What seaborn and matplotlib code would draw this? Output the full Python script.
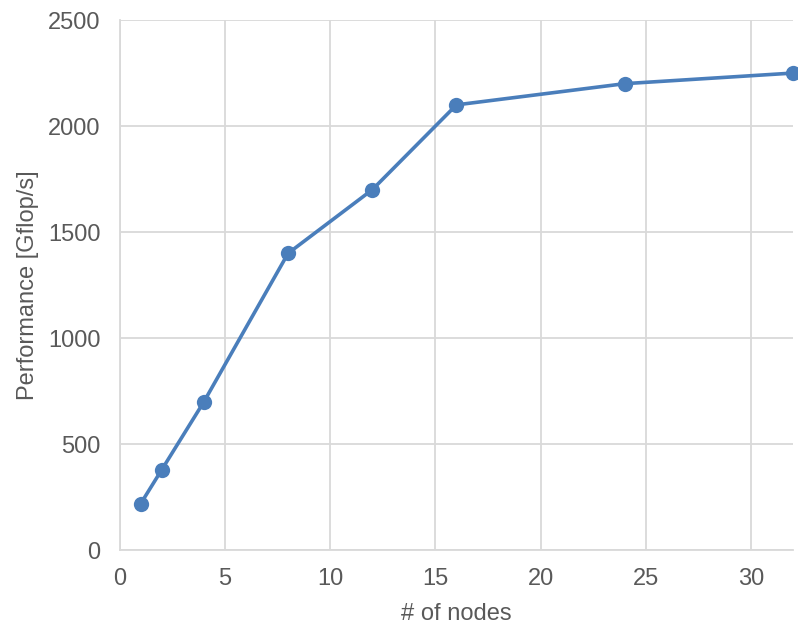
import matplotlib
matplotlib.use("Agg")
import matplotlib.pyplot as plt
import seaborn as sns
import pandas as pd

nodes = [1, 2, 4, 8, 12, 16, 24, 32]
perf = [220, 380, 700, 1400, 1700, 2100, 2200, 2250]

df = pd.DataFrame({'nodes': nodes, 'perf': perf})

sns.set_style("white")
plt.rcParams['font.family'] = ['Liberation Sans', 'DejaVu Sans']

fig = plt.figure(figsize=(7.98, 6.26), dpi=100)
ax = fig.add_axes([0.150, 0.121, 0.844, 0.847])

sns.lineplot(data=df, x='nodes', y='perf', ax=ax, color='#4a7ebb', linewidth=2.6,
             marker='o', markersize=11, markeredgewidth=0, clip_on=False, zorder=3)

ax.set_xlim(0, 32)
ax.set_ylim(0, 2500)
ax.set_xticks([0, 5, 10, 15, 20, 25, 30])
ax.set_yticks([0, 500, 1000, 1500, 2000, 2500])
ax.grid(True, color='#d9d9d9', linewidth=1.3)
ax.set_axisbelow(True)
for s in ['top', 'right']:
    ax.spines[s].set_visible(False)
for s in ['left', 'bottom']:
    ax.spines[s].set_color('#d9d9d9')
    ax.spines[s].set_linewidth(1.3)
ax.tick_params(axis='y', length=0, labelsize=17, labelcolor='#595959', pad=14)
ax.tick_params(axis='x', length=0, labelsize=17, labelcolor='#595959', pad=13)
ax.set_xlabel('# of nodes', fontsize=17, color='#595959', labelpad=9)
ax.set_ylabel('Performance [Gflop/s]', fontsize=17, color='#595959', labelpad=6)

fig.savefig('out.png', dpi=100)
